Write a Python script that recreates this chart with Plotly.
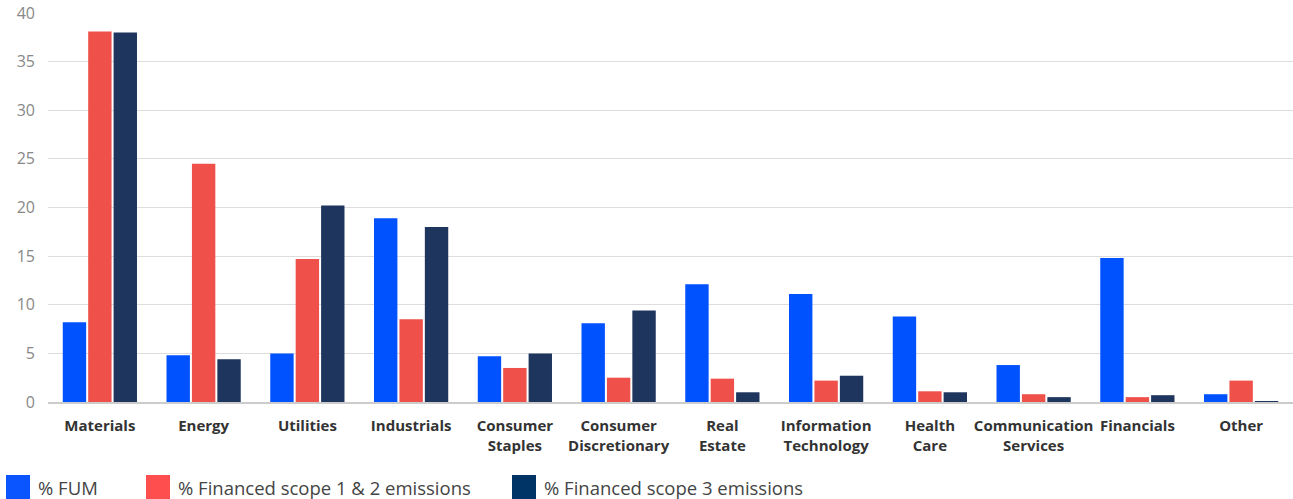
import plotly.graph_objects as go

categories = ["Materials", "Energy", "Utilities", "Industrials", "Consumer Staples",
              "Consumer Discretionary", "Real Estate", "Information Technology",
              "Health Care", "Communication Services", "Financials", "Other"]
tick_labels = ["Materials", "Energy", "Utilities", "Industrials", "Consumer<br>Staples",
               "Consumer<br>Discretionary", "Real<br>Estate", "Information<br>Technology",
               "Health<br>Care", "Communication<br>Services", "Financials", "Other"]
fum = [8.2, 4.8, 5.0, 18.9, 4.7, 8.1, 12.1, 11.1, 8.8, 3.8, 14.8, 0.8]
scope12 = [38.1, 24.5, 14.7, 8.5, 3.5, 2.5, 2.4, 2.2, 1.1, 0.8, 0.5, 2.2]
scope3 = [38.0, 4.4, 20.2, 18.0, 5.0, 9.4, 1.0, 2.7, 1.0, 0.5, 0.7, 0.1]
series_names = ["% FUM", "% Financed scope 1 & 2 emissions", "% Financed scope 3 emissions"]
bar_colors = ["#0052FF", "#F0504A", "#1E355E"]
legend_colors = ["#0A55FF", "#FF4E4E", "#003366"]
y_ticks = [0, 5, 10, 15, 20, 25, 30, 35, 40]

fig = go.Figure()
for name, vals, col in zip(series_names, [fum, scope12, scope3], bar_colors):
    fig.add_trace(go.Bar(x=categories, y=vals, name=name, marker=dict(color=col, line=dict(width=0)),
                         showlegend=False))

fig.update_layout(
    barmode="group", bargap=0.265, bargroupgap=0.08,
    width=1293, height=499,
    margin=dict(l=48, r=0, t=13, b=97),
    paper_bgcolor="white", plot_bgcolor="white",
    font=dict(family="Open Sans, sans-serif"),
    xaxis=dict(tickmode="array", tickvals=categories,
               ticktext=["<b>" + t + "</b>" for t in tick_labels],
               tickfont=dict(size=15, color="#333333"),
               showline=True, linecolor="#cccccc", linewidth=2,
               showgrid=False, ticks="", ticklabelstandoff=9),
    yaxis=dict(range=[0, 40], tickvals=y_ticks, tickfont=dict(size=16, color="#888888"),
               showgrid=True, gridcolor="#dddddd", gridwidth=1, zeroline=False,
               ticklabelstandoff=12),
)

# legend drawn with shapes + annotations
leg_x = [6, 146, 512]
for i, (name, col) in enumerate(zip(series_names, legend_colors)):
    x0 = leg_x[i]
    fig.add_shape(type="rect", xref="paper", yref="paper",
                  x0=(x0 - 48) / 1245, x1=(x0 + 24 - 48) / 1245,
                  y0=(402 - 499) / 389, y1=(402 - 475) / 389,
                  fillcolor=col, line=dict(width=0))
    fig.add_annotation(text=name, xref="paper", yref="paper",
                       x=(x0 + 30 - 48) / 1245, y=(402 - 487) / 389,
                       xanchor="left", yanchor="middle", showarrow=False,
                       font=dict(size=18.5, color="#444444"))

fig.write_html("out.html")
